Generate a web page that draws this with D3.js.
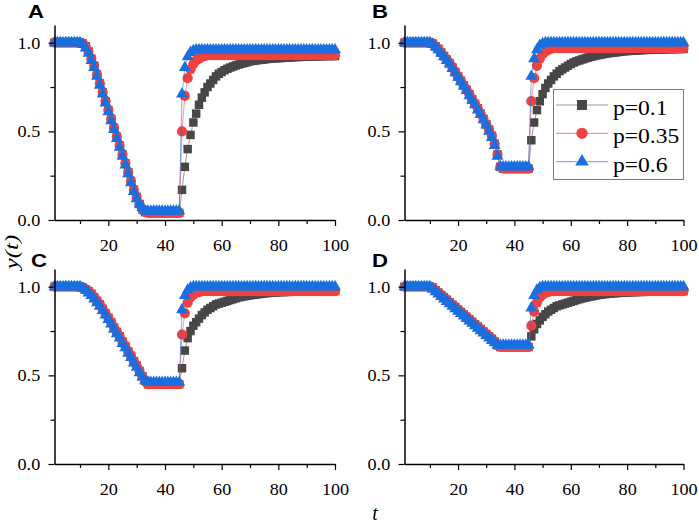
<!DOCTYPE html>
<html>
<head>
<meta charset="utf-8">
<script src="https://cdn.jsdelivr.net/npm/d3@7"></script>
<style>
  body { margin: 0; background: #fff; }
  svg { display: block; }
</style>
</head>
<body>
<div id="chart"></div>
<script>
// time steps
var T = [
  1,2,3,4,5,6,7,8,9,10, 11,12,13,14,15,16,17,18,19,20,
  21,22,23,24,25,26,27,28,29,30, 31,32,33,34,35,36,37,38,39,40,
  41,42,43,44,45,46,47,48,49,50, 51,52,53,54,55,56,57,58,59,60,
  61,62,63,64,65,66,67,68,69,70, 71,72,73,74,75,76,77,78,79,80,
  81,82,83,84,85,86,87,88,89,90, 91,92,93,94,95,96,97,98,99,100
];

var seriesNames = ['p=0.1', 'p=0.35', 'p=0.6'];
var panelLabels = ['A', 'B', 'C', 'D'];
var xTicks = [20, 40, 60, 80, 100];
var xMinor = [10, 30, 50, 70, 90];
var yTicks = [0, 0.5, 1.0];
var yMinor = [0.25, 0.75];

// ---- panel A ----
var A_p01 = [
  1,1,1,1,1,1,1,1,1,1,
  .995,.98,.95,.91,.87,.82,.77,.72,.67,.62,
  .57,.52,.47,.42,.37,.32,.27,.22,.17,.13,
  .09,.06,.045,.04,.04,.04,.04,.04,.04,.04,
  .04,.04,.04,.04,.04,.17,.30,.40,.48,.55,
  .60,.65,.69,.72,.75,.77,.79,.81,.825,.835,
  .845,.853,.86,.866,.872,.877,.882,.886,.89,.895,
  .898,.90,.902,.904,.906,.908,.91,.911,.912,.913,
  .914,.915,.916,.917,.918,.919,.92,.92,.921,.921,
  .922,.922,.923,.923,.924,.924,.925,.925,.925,.925
];
var A_p035 = [
  1,1,1,1,1,1,1,1,1,1,
  .995,.98,.95,.91,.87,.82,.77,.72,.67,.62,
  .57,.52,.47,.42,.37,.32,.27,.22,.17,.13,
  .09,.06,.045,.04,.04,.04,.04,.04,.04,.04,
  .04,.04,.04,.04,.04,.50,.70,.80,.85,.88,
  .90,.91,.92,.925,.93,.93,.93,.93,.93,.93,
  .93,.93,.93,.93,.93,.93,.93,.93,.93,.93,
  .93,.93,.93,.93,.93,.93,.93,.93,.93,.93,
  .93,.93,.93,.93,.93,.93,.93,.93,.93,.93,
  .93,.93,.93,.93,.93,.93,.93,.93,.93,.93
];
var A_p06 = [
  1,1,1,1,1,1,1,1,1,1,
  .99,.97,.94,.90,.86,.81,.76,.71,.66,.61,
  .56,.51,.46,.41,.36,.31,.26,.21,.16,.12,
  .09,.07,.05,.05,.05,.05,.05,.05,.05,.05,
  .05,.05,.05,.05,.05,.71,.86,.92,.945,.955,
  .96,.96,.96,.96,.96,.96,.96,.96,.96,.96,
  .96,.96,.96,.96,.96,.96,.96,.96,.96,.96,
  .96,.96,.96,.96,.96,.96,.96,.96,.96,.96,
  .96,.96,.96,.96,.96,.96,.96,.96,.96,.96,
  .96,.96,.96,.96,.96,.96,.96,.96,.96,.96
];

// ---- panel B ----
var B_p01 = [
  1,1,1,1,1,1,1,1,1,1,
  .995,.98,.965,.945,.925,.905,.885,.86,.835,.81,
  .785,.76,.735,.71,.68,.655,.63,.60,.57,.54,
  .51,.475,.43,.37,.30,.29,.29,.29,.29,.29,
  .29,.29,.29,.29,.29,.45,.55,.62,.67,.71,
  .745,.77,.79,.81,.825,.84,.85,.86,.87,.88,
  .888,.895,.90,.906,.911,.916,.92,.924,.928,.931,
  .934,.937,.94,.942,.944,.946,.948,.95,.952,.953,
  .954,.955,.956,.957,.958,.959,.96,.96,.961,.961,
  .962,.962,.963,.963,.964,.964,.964,.965,.965,.965
];
var B_p035 = [
  1,1,1,1,1,1,1,1,1,1,
  .995,.98,.965,.945,.925,.905,.885,.86,.835,.81,
  .785,.76,.735,.71,.68,.655,.63,.60,.57,.54,
  .51,.475,.43,.37,.30,.29,.29,.29,.29,.29,
  .29,.29,.29,.29,.29,.67,.80,.87,.91,.935,
  .95,.96,.965,.97,.97,.97,.97,.97,.97,.97,
  .97,.97,.97,.97,.97,.97,.97,.97,.97,.97,
  .97,.97,.97,.97,.97,.97,.97,.97,.97,.97,
  .97,.97,.97,.97,.97,.97,.97,.97,.97,.97,
  .97,.97,.97,.97,.97,.97,.97,.97,.97,.97
];
var B_p06 = [
  1,1,1,1,1,1,1,1,1,1,
  .99,.975,.96,.94,.92,.90,.88,.855,.83,.805,
  .78,.755,.73,.70,.675,.65,.62,.595,.565,.535,
  .50,.465,.42,.36,.30,.30,.30,.30,.30,.30,
  .30,.30,.30,.30,.30,.81,.91,.96,.985,.995,
  1,1,1,1,1,1,1,1,1,1,
  1,1,1,1,1,1,1,1,1,1,
  1,1,1,1,1,1,1,1,1,1,
  1,1,1,1,1,1,1,1,1,1,
  1,1,1,1,1,1,1,1,1,1
];

// ---- panel C ----
var C_p01 = [
  1,1,1,1,1,1,1,1,1,1,
  .995,.985,.975,.96,.94,.92,.90,.875,.85,.825,
  .80,.77,.745,.72,.69,.665,.635,.61,.58,.555,
  .525,.495,.47,.45,.45,.45,.45,.45,.45,.45,
  .45,.45,.45,.45,.45,.54,.64,.71,.75,.78,
  .80,.82,.84,.855,.87,.88,.89,.90,.905,.91,
  .915,.92,.925,.93,.935,.94,.943,.946,.949,.952,
  .954,.956,.958,.96,.962,.964,.966,.967,.968,.969,
  .97,.97,.971,.971,.972,.972,.972,.973,.973,.973,
  .974,.974,.974,.974,.975,.975,.975,.975,.975,.975
];
var C_p035 = [
  1,1,1,1,1,1,1,1,1,1,
  .995,.985,.975,.96,.94,.92,.90,.875,.85,.825,
  .80,.77,.745,.72,.69,.665,.635,.61,.58,.555,
  .525,.495,.47,.45,.45,.45,.45,.45,.45,.45,
  .45,.45,.45,.45,.45,.73,.85,.91,.94,.955,
  .965,.97,.975,.975,.975,.975,.975,.975,.975,.975,
  .975,.975,.975,.975,.975,.975,.975,.975,.975,.975,
  .975,.975,.975,.975,.975,.975,.975,.975,.975,.975,
  .975,.975,.975,.975,.975,.975,.975,.975,.975,.975,
  .975,.975,.975,.975,.975,.975,.975,.975,.975,.975
];
var C_p06 = [
  1,1,1,1,1,1,1,1,1,1,
  .99,.98,.965,.95,.93,.91,.89,.865,.84,.815,
  .79,.76,.735,.71,.68,.655,.625,.60,.57,.545,
  .515,.49,.47,.46,.46,.46,.46,.46,.46,.46,
  .46,.46,.46,.46,.46,.87,.95,.98,.995,1,
  1,1,1,1,1,1,1,1,1,1,
  1,1,1,1,1,1,1,1,1,1,
  1,1,1,1,1,1,1,1,1,1,
  1,1,1,1,1,1,1,1,1,1,
  1,1,1,1,1,1,1,1,1,1
];

// ---- panel D ----
var D_p01 = [
  1,1,1,1,1,1,1,1,1,1,
  .995,.98,.967,.953,.94,.926,.912,.898,.885,.871,
  .857,.843,.83,.816,.802,.788,.775,.761,.747,.733,
  .72,.706,.69,.67,.66,.66,.66,.66,.66,.66,
  .66,.66,.66,.66,.66,.72,.76,.79,.81,.83,
  .845,.86,.87,.88,.89,.895,.90,.905,.91,.915,
  .92,.925,.93,.934,.938,.942,.945,.948,.951,.954,
  .956,.958,.96,.962,.963,.964,.965,.966,.967,.968,
  .969,.969,.97,.97,.971,.971,.972,.972,.972,.973,
  .973,.973,.974,.974,.974,.974,.975,.975,.975,.975
];
var D_p035 = [
  1,1,1,1,1,1,1,1,1,1,
  .995,.98,.967,.953,.94,.926,.912,.898,.885,.871,
  .857,.843,.83,.816,.802,.788,.775,.761,.747,.733,
  .72,.706,.69,.67,.66,.66,.66,.66,.66,.66,
  .66,.66,.66,.66,.66,.78,.86,.91,.94,.955,
  .965,.97,.975,.975,.975,.975,.975,.975,.975,.975,
  .975,.975,.975,.975,.975,.975,.975,.975,.975,.975,
  .975,.975,.975,.975,.975,.975,.975,.975,.975,.975,
  .975,.975,.975,.975,.975,.975,.975,.975,.975,.975,
  .975,.975,.975,.975,.975,.975,.975,.975,.975,.975
];
var D_p06 = [
  1,1,1,1,1,1,1,1,1,1,
  .986,.972,.959,.945,.931,.917,.904,.89,.876,.862,
  .849,.835,.821,.807,.794,.78,.766,.752,.739,.725,
  .711,.697,.684,.67,.67,.67,.67,.67,.67,.67,
  .67,.67,.67,.67,.67,.88,.95,.98,.995,1,
  1,1,1,1,1,1,1,1,1,1,
  1,1,1,1,1,1,1,1,1,1,
  1,1,1,1,1,1,1,1,1,1,
  1,1,1,1,1,1,1,1,1,1,
  1,1,1,1,1,1,1,1,1,1
];

var WIDTH = 699, HEIGHT = 524;
var SERIF = '"Liberation Serif", "Times New Roman", serif';
var SANS = '"Liberation Sans", Arial, sans-serif';

var colors = ['#474747', '#f14040', '#1a6fdf'];
var symbols = [d3.symbolSquare, d3.symbolCircle, d3.symbolTriangle];
var markerSizes = [72, 82, 62];
var legendSizes = [100, 100, 78];

var panels = [
  { data: [A_p01, A_p035, A_p06], left: 54.5, right: 335, top: 25, bottom: 220, lx: 28, ly: 18 },
  { data: [B_p01, B_p035, B_p06], left: 404.5, right: 683.5, top: 25, bottom: 220, lx: 372, ly: 18 },
  { data: [C_p01, C_p035, C_p06], left: 54.5, right: 335, top: 269, bottom: 464, lx: 31, ly: 267 },
  { data: [D_p01, D_p035, D_p06], left: 404.5, right: 683.5, top: 269, bottom: 464, lx: 372, ly: 267 }
];

var svg = d3.select('#chart')
  .append('svg')
  .attr('width', WIDTH)
  .attr('height', HEIGHT)
;

svg.append('rect')
  .attr('width', WIDTH)
  .attr('height', HEIGHT)
  .attr('fill', '#fff')
;

function styleAxis(g) {
  g.attr('font-family', null);
  g.select('.domain').attr('stroke', '#000').attr('stroke-width', 1.5);
  g.selectAll('.tick line').attr('stroke', '#000').attr('stroke-width', 1.2);
  g.selectAll('.tick text')
    .attr('fill', '#000')
    .style('font-family', SERIF)
    .style('font-size', '16.5px')
    .attr('transform', 'scale(1.1,1)')
  ;
}

panels.forEach(function(p, pi) {
  var x = d3.scaleLinear().domain([1, 100]).range([p.left, p.right]);
  var y = d3.scaleLinear().domain([0, 1.1]).range([p.bottom, p.top]);
  var g = svg.append('g').attr('class', 'panel');

  // series: black, red, blue (blue drawn last, on top)
  p.data.forEach(function(values, si) {
    var pts = T.map(function(t, i) { return [t, values[i]]; });
    var line = d3.line()
      .x(function(d) { return x(d[0]); })
      .y(function(d) { return y(d[1]); });

    g.append('path')
      .datum(pts)
      .attr('d', line)
      .attr('fill', 'none')
      .attr('stroke', colors[si])
      .attr('stroke-opacity', 0.55)
      .attr('stroke-width', 1)
    ;

    g.append('g').selectAll('path')
      .data(pts)
      .enter().append('path')
        .attr('d', d3.symbol().type(symbols[si]).size(markerSizes[si]))
        .attr('transform', function(d) { return 'translate(' + x(d[0]) + ',' + y(d[1]) + ')'; })
        .attr('fill', colors[si])
    ;
  });

  // x axis
  var gx = g.append('g')
    .attr('transform', 'translate(0,' + p.bottom + ')')
    .call(d3.axisBottom(x).tickValues(xTicks).tickSize(6).tickSizeOuter(0)
      .tickPadding(13).tickFormat(d3.format('d')));
  styleAxis(gx);

  var gxm = g.append('g')
    .attr('transform', 'translate(0,' + p.bottom + ')')
    .call(d3.axisBottom(x).tickValues(xMinor).tickSize(4).tickFormat(''));
  gxm.select('.domain').remove();
  gxm.selectAll('.tick line').attr('stroke', '#000').attr('stroke-width', 1.2);

  // y axis
  var gy = g.append('g')
    .attr('transform', 'translate(' + p.left + ',0)')
    .call(d3.axisLeft(y).tickValues(yTicks).tickSize(6).tickSizeOuter(0)
      .tickPadding(7).tickFormat(d3.format('.1f')));
  styleAxis(gy);

  var gym = g.append('g')
    .attr('transform', 'translate(' + p.left + ',0)')
    .call(d3.axisLeft(y).tickValues(yMinor).tickSize(4).tickFormat(''));
  gym.select('.domain').remove();
  gym.selectAll('.tick line').attr('stroke', '#000').attr('stroke-width', 1.2);

  // panel letter
  svg.append('text')
    .attr('transform', 'translate(' + p.lx + ',' + p.ly + ') scale(1.2,1)')
    .style('font-family', SANS)
    .style('font-weight', 'bold')
    .style('font-size', '18.5px')
    .text(panelLabels[pi])
  ;
});

// legend inside panel B
var legend = svg.append('g').attr('class', 'legend');
legend.append('rect')
  .attr('x', 553.5).attr('y', 89.5)
  .attr('width', 130).attr('height', 90)
  .attr('fill', '#fff')
  .attr('stroke', '#7a7a7a')
  .attr('stroke-width', 1)
;
var legendY = d3.scalePoint().domain(seriesNames).range([105, 161.7]);
seriesNames.forEach(function(name, si) {
  var ly = legendY(name);
  legend.append('line')
    .attr('x1', 556).attr('x2', 608)
    .attr('y1', ly).attr('y2', ly)
    .attr('stroke', colors[si])
    .attr('stroke-opacity', 0.55)
    .attr('stroke-width', 1.2)
  ;
  legend.append('path')
    .attr('d', d3.symbol().type(symbols[si]).size(legendSizes[si]))
    .attr('transform', 'translate(582,' + ly + ')')
    .attr('fill', colors[si])
  ;
  legend.append('text')
    .attr('transform', 'translate(613,' + (ly + 10) + ') scale(1.15,1)')
    .style('font-family', SERIF)
    .style('font-size', '20.5px')
    .text(name)
  ;
});

// axis titles
svg.append('text')
  .attr('transform', 'translate(18,252) rotate(-90) scale(1.3,1)')
  .attr('text-anchor', 'middle')
  .style('font-family', SERIF)
  .style('font-style', 'italic')
  .style('font-size', '19px')
  .text('y(t)')
;
svg.append('text')
  .attr('x', 375)
  .attr('y', 520)
  .attr('text-anchor', 'middle')
  .style('font-family', SERIF)
  .style('font-style', 'italic')
  .style('font-size', '20px')
  .text('t')
;
</script>
</body>
</html>
